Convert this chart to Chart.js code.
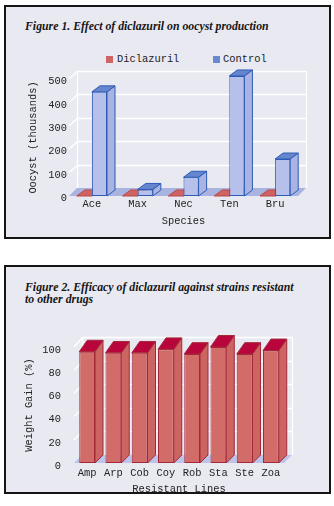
<!DOCTYPE html>
<html>
<head>
<meta charset="utf-8">
<script src="https://cdn.jsdelivr.net/npm/chart.js@4/dist/chart.umd.min.js"></script>
<style>
body{margin:0;background:#fff;width:334px;height:506px;position:relative;overflow:hidden}
.box{position:absolute;left:4px;width:323px;border:2px solid #151515;background:#e9e9f2}
.ttl{position:absolute;left:25px;font:italic bold 11.8px "Liberation Serif",serif;color:#151515;line-height:11.5px;white-space:nowrap}
.leg{position:absolute;top:53px;font:10.4px "Liberation Mono",monospace;line-height:12px;color:#222}
.sw{position:absolute;top:56px;width:7px;height:7px}
canvas{position:absolute;left:0}
</style>
</head>
<body>
<div class="box" style="top:5px;height:230px"></div>
<div class="ttl" style="top:21px">Figure 1. Effect of diclazuril on oocyst production</div>
<div class="sw" style="left:106px;background:#cf6464"></div>
<div class="leg" style="left:117px">Diclazuril</div>
<div class="sw" style="left:213px;background:#6a88cf"></div>
<div class="leg" style="left:223px">Control</div>
<canvas id="chart1" width="334" height="190" style="top:50px"></canvas>

<div class="box" style="top:265px;height:225px"></div>
<div class="ttl" style="top:282px">Figure 2. Efficacy of diclazuril against strains resistant<br>to other drugs</div>
<canvas id="chart2" width="334" height="199" style="top:300px"></canvas>

<script>
// figure 1
var speciesLabels = ['Ace', 'Max', 'Nec', 'Ten', 'Bru'];
var diclazurilValues = [0, 0, 0, 0, 0];
var controlValues = [445, 28, 80, 513, 158];

// figure 2
var strainLabels = ['Amp', 'Arp', 'Cob', 'Coy', 'Rob', 'Sta', 'Ste', 'Zoa'];
var weightGainValues = [96, 95, 95, 98, 94, 100, 94, 97];

var MONO = '"Liberation Mono", monospace';

// fake 3d: floor, back wall grid, side and top faces of every bar
var depth3d = {
	id: 'depth3d',
	beforeDatasetsDraw: function(chart, args, o) {
		var ctx = chart.ctx, a = chart.chartArea, y = chart.scales.y;
		var h = a.bottom - a.top;
		function wallDy(py) { return o.wall[0] + (a.bottom - py) / h * (o.wall[1] - o.wall[0]); }
		function barDy(py) { return o.bar[0] + (a.bottom - py) / h * (o.bar[1] - o.bar[0]); }
		ctx.save();

		// floor
		ctx.fillStyle = o.floor;
		ctx.beginPath();
		ctx.moveTo(a.left, a.bottom);
		ctx.lineTo(a.right, a.bottom);
		ctx.lineTo(a.right + o.dx, a.bottom - o.wall[0]);
		ctx.lineTo(a.left + o.dx, a.bottom - o.wall[0]);
		ctx.closePath();
		ctx.fill();

		// grid on the walls
		ctx.strokeStyle = o.grid;
		ctx.lineWidth = 1.3;
		var bx = Math.round(a.left + o.dx) + 0.5, rx = Math.round(a.right + o.dx) + 0.5;
		var ticks = y.getTicks();
		for (var k = 0; k < ticks.length; k++) {
			if (ticks[k].value === 0) continue;
			var py = y.getPixelForValue(ticks[k].value);
			var by = Math.round(py - wallDy(py)) + 0.5;
			ctx.beginPath();
			ctx.moveTo(a.left, py);
			ctx.lineTo(bx, by);
			ctx.lineTo(rx, by);
			ctx.stroke();
		}
		ctx.beginPath();
		ctx.moveTo(rx, a.bottom - o.wall[0]);
		ctx.lineTo(rx, a.top - o.wall[1]);
		ctx.moveTo(bx, a.bottom - o.wall[0]);
		ctx.lineTo(bx, a.top - o.wall[1]);
		ctx.stroke();

		// bar sides and tops, the library draws the fronts over them
		ctx.lineWidth = 1;
		chart.data.datasets.forEach(function(ds, i) {
			var meta = chart.getDatasetMeta(i);
			ctx.strokeStyle = ds.borderColor;
			meta.data.forEach(function(el) {
				var l = el.x - el.width / 2, r = el.x + el.width / 2;
				var t = Math.min(el.y, el.base), b = Math.max(el.y, el.base);
				var dt = barDy(t), db = barDy(b);
				ctx.fillStyle = ds.sideColor;
				ctx.beginPath();
				ctx.moveTo(r, t);
				ctx.lineTo(r + o.dx, t - dt);
				ctx.lineTo(r + o.dx, b - db);
				ctx.lineTo(r, b);
				ctx.closePath();
				ctx.fill();
				ctx.stroke();
				ctx.fillStyle = ds.topColor;
				ctx.beginPath();
				ctx.moveTo(l, t);
				ctx.lineTo(l + o.dx, t - dt);
				ctx.lineTo(r + o.dx, t - dt);
				ctx.lineTo(r, t);
				ctx.closePath();
				ctx.fill();
				ctx.stroke();
			});
		});
		ctx.restore();
	}
};

function axisFont() { return { family: MONO, size: 10.4 }; }

var ctx = document.getElementById('chart1').getContext('2d');
new Chart(ctx, {
	type: 'bar',
	plugins: [depth3d],
	data: {
		labels: speciesLabels,
		datasets: [{
			label: 'Diclazuril',
			data: diclazurilValues,
			backgroundColor: '#d46a6a',
			borderColor: '#b84848',
			sideColor: '#c85a5a',
			topColor: '#cf6262',
			borderWidth: 0
		}, {
			label: 'Control',
			data: controlValues,
			backgroundColor: '#b6c0ea',
			borderColor: '#2d5bb5',
			sideColor: '#a9b4e4',
			topColor: '#6585cf',
			borderWidth: 1
		}]
	},
	options: {
		responsive: false,
		animation: false,
		devicePixelRatio: 1,
		clip: false,
		borderSkipped: false,
		categoryPercentage: 0.66,
		barPercentage: 1,
		layout: { padding: { top: 29, right: 36, left: 0, bottom: 0 } },
		plugins: {
			legend: { display: false },
			tooltip: { enabled: false },
			depth3d: { dx: 8, wall: [8, 8], bar: [6, 6], floor: '#a9b3e0', grid: '#ffffff' }
		},
		scales: {
			x: {
				grid: { display: false, drawTicks: false },
				border: { display: false },
				ticks: { font: axisFont(), color: '#222', padding: 2 },
				title: { display: true, text: 'Species', font: axisFont(), color: '#222', padding: { top: 0, bottom: 12.5 } },
				afterFit: function(s) { s.height = 44; }
			},
			y: {
				min: 0,
				max: 500,
				grid: { display: false, drawTicks: false },
				border: { display: false },
				ticks: { stepSize: 100, font: axisFont(), color: '#222', padding: 2, labelOffset: 2.5 },
				title: { display: true, text: 'Oocyst (thousands)', font: axisFont(), color: '#222', padding: { top: 27, bottom: 0 } },
				afterFit: function(s) { s.width = 69; }
			}
		}
	}
});

var ctx2 = document.getElementById('chart2').getContext('2d');
new Chart(ctx2, {
	type: 'bar',
	plugins: [depth3d],
	data: {
		labels: strainLabels,
		datasets: [{
			label: 'Weight Gain',
			data: weightGainValues,
			backgroundColor: '#d26c68',
			borderColor: '#a52838',
			sideColor: '#cc6462',
			topColor: '#b8063c',
			borderWidth: 1
		}]
	},
	options: {
		responsive: false,
		animation: false,
		devicePixelRatio: 1,
		clip: false,
		borderSkipped: false,
		categoryPercentage: 0.6,
		barPercentage: 1,
		layout: { padding: { top: 47, right: 50, left: 0, bottom: 0 } },
		plugins: {
			legend: { display: false },
			tooltip: { enabled: false },
			depth3d: { dx: 8, wall: [8, 10], bar: [8, 11.5], floor: '#bcc4ea', grid: '#ffffff' }
		},
		scales: {
			x: {
				grid: { display: false, drawTicks: false },
				border: { display: false },
				ticks: { font: axisFont(), color: '#222', padding: 4 },
				title: { display: true, text: 'Resistant Lines', font: axisFont(), color: '#222', padding: { top: 0, bottom: 4 } },
				afterFit: function(s) { s.height = 36; }
			},
			y: {
				min: 0,
				max: 100,
				grid: { display: false, drawTicks: false },
				border: { display: false },
				ticks: { stepSize: 20, font: axisFont(), color: '#222', padding: 13, labelOffset: 3 },
				title: { display: true, text: 'Weight Gain (%)', font: axisFont(), color: '#222', padding: { top: 23, bottom: 0 } },
				afterFit: function(s) { s.width = 74; }
			}
		}
	}
});
</script>
</body>
</html>
